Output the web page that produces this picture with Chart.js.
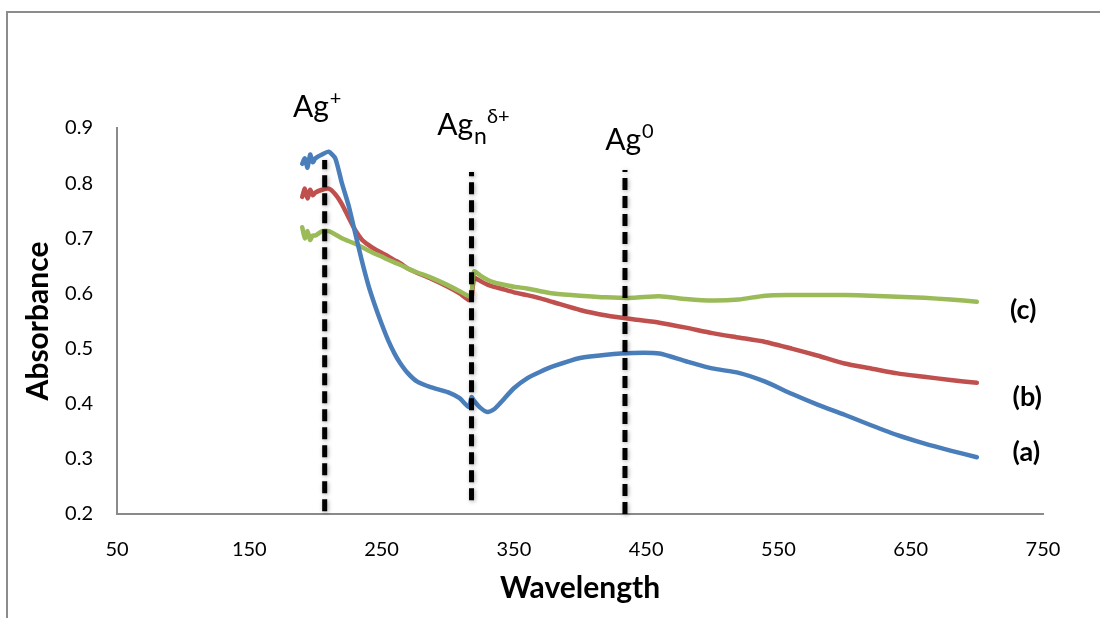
<!DOCTYPE html>
<html>
<head>
<meta charset="utf-8">
<script src="https://cdn.jsdelivr.net/npm/chart.js@4"></script>
<style>
  body { margin: 0; background: #fff; }
  #wrap { width: 1100px; height: 618px; position: relative; }
</style>
</head>
<body>
<div id="wrap"><canvas id="myChart" width="1100" height="618"></canvas></div>
<script>
// wavelength (nm) shared by the three spectra
const wavelengths = [190,192,194,196,198,200,205,210,215,220,225,230,235,240,245,250,255,260,264,270,277,287,300,309,316,318,320,325,330,335,340,350,360,370,380,400,420,440,460,480,500,520,540,560,580,600,620,640,660,680,700];
// (a) blue
const absA = [0.835,0.845,0.828,0.852,0.838,0.845,0.852,0.857,0.845,0.80,0.76,0.71,0.66,0.615,0.578,0.545,0.515,0.49,0.474,0.455,0.44,0.43,0.421,0.41,0.394,0.412,0.405,0.392,0.385,0.39,0.402,0.428,0.446,0.458,0.468,0.483,0.489,0.492,0.491,0.477,0.464,0.456,0.44,0.418,0.398,0.38,0.361,0.343,0.328,0.315,0.303];
// (b) red
const absB = [0.775,0.79,0.772,0.788,0.778,0.783,0.788,0.79,0.78,0.762,0.738,0.715,0.698,0.688,0.68,0.674,0.667,0.66,0.655,0.645,0.637,0.627,0.612,0.6,0.588,0.592,0.628,0.622,0.616,0.612,0.609,0.602,0.597,0.591,0.584,0.57,0.56,0.553,0.547,0.538,0.528,0.52,0.512,0.5,0.487,0.473,0.464,0.455,0.449,0.443,0.438];
// (c) green
const absC = [0.72,0.70,0.713,0.697,0.705,0.705,0.713,0.713,0.707,0.70,0.695,0.69,0.684,0.678,0.672,0.667,0.661,0.656,0.652,0.645,0.638,0.629,0.615,0.604,0.595,0.600,0.64,0.632,0.625,0.62,0.617,0.612,0.609,0.604,0.6,0.596,0.593,0.592,0.595,0.59,0.587,0.589,0.596,0.597,0.597,0.597,0.596,0.594,0.592,0.589,0.585];

// dashed marker lines: wavelength, bottom and top absorbance
const markerX = [207, 318, 434];
const markerBottom = [0.205, 0.225, 0.2];
const markerTop = [0.842, 0.82, 0.824];

// labels: text parts, anchor wavelength, anchor absorbance
const peakLabels = [
  { parts: [['Ag', 0], ['+', -1]], x: 183, y: 0.92 },
  { parts: [['Ag', 0], ['n', 1], ['δ+', -1]], x: 292, y: 0.887 },
  { parts: [['Ag', 0], ['0', -1]], x: 419, y: 0.86 }
];
const seriesLabels = ['(a)', '(b)', '(c)'];
const seriesLabelX = [727, 727, 725];
const seriesLabelY = [0.311, 0.412, 0.57];

const xTicks = { min: 50, max: 750, step: 100 };
const yTicks = { min: 0.2, max: 0.9, step: 0.1 };

function pts(ys) {
  return wavelengths.map((w, i) => ({ x: w, y: ys[i] }));
}

const markerSets = markerX.map((w, i) => ({
  data: [{ x: w, y: markerBottom[i] }, { x: w, y: markerTop[i] }],
  borderColor: '#000',
  borderWidth: 5,
  borderDash: [12, 6],
  pointRadius: 0,
  clip: false
}));

function spectrum(ys, color) {
  return {
    data: pts(ys),
    borderColor: color,
    borderWidth: 4.5,
    pointRadius: 0,
    tension: 0.2,
    borderCapStyle: 'round',
    borderJoinStyle: 'round'
  };
}

const annot = {
  id: 'annot',
  beforeDraw(chart) {
    const ctx = chart.ctx;
    ctx.save();
    ctx.strokeStyle = '#8c8c8c';
    ctx.lineWidth = 2;
    ctx.beginPath();
    ctx.moveTo(7, 640);
    ctx.lineTo(7, 12);
    ctx.lineTo(1110, 12);
    ctx.stroke();
    ctx.restore();
  },
  beforeDatasetDraw(chart, args) {
    if (args.index < markerSets.length) {
      chart.ctx.save();
      chart.ctx.shadowColor = 'rgba(0,0,0,0.35)';
      chart.ctx.shadowBlur = 4;
      chart.ctx.shadowOffsetX = 1;
      chart.ctx.shadowOffsetY = 1;
    }
  },
  afterDatasetDraw(chart, args) {
    if (args.index < markerSets.length) chart.ctx.restore();
  },
  afterDatasetsDraw(chart) {
    const ctx = chart.ctx;
    const xs = chart.scales.x, ys = chart.scales.y;
    ctx.save();
    ctx.fillStyle = '#000';
    ctx.textBaseline = 'alphabetic';
    ctx.textAlign = 'left';
    peakLabels.forEach(l => {
      let px = xs.getPixelForValue(l.x);
      const py = ys.getPixelForValue(l.y);
      l.parts.forEach(p => {
        let size = 30, dy = 0;
        if (p[1] === -1) { size = 20; dy = -12; }
        if (p[1] === 1) { size = 23; dy = 9; }
        ctx.font = size + 'px Lato';
        ctx.fillText(p[0], px, py + dy);
        px += ctx.measureText(p[0]).width + (p[1] === 0 ? 1 : 0);
      });
    });
    ctx.font = 'bold 27px Lato';
    ctx.textBaseline = 'middle';
    seriesLabels.forEach((t, i) => {
      ctx.fillText(t, xs.getPixelForValue(seriesLabelX[i]), ys.getPixelForValue(seriesLabelY[i]));
    });
    ctx.restore();
  }
};

const ctx = document.getElementById('myChart').getContext('2d');
const myChart = new Chart(ctx, {
  type: 'line',
  data: {
    datasets: [
      ...markerSets,
      spectrum(absA, '#4a7ebb'),
      spectrum(absC, '#9bbb59'),
      spectrum(absB, '#c0504d')
    ]
  },
  options: {
    responsive: false,
    animation: false,
    layout: { padding: { left: 0, right: 57, top: 128, bottom: 0 } },
    plugins: { legend: { display: false }, tooltip: { enabled: false } },
    scales: {
      x: {
        type: 'linear',
        min: xTicks.min, max: xTicks.max,
        afterFit(s) { s.height = 104; },
        grid: { display: false, drawTicks: false, tickLength: 0 },
        border: { display: true, color: '#8a8a8a', width: 2 },
        ticks: { stepSize: xTicks.step, padding: 24, color: '#000', font: { family: 'Lato', size: 20 }, maxRotation: 0 },
        title: { display: true, text: 'Wavelength', color: '#000', font: { family: 'Lato', size: 30, weight: 'bold' }, padding: { top: 0, bottom: 12 } }
      },
      y: {
        min: yTicks.min, max: yTicks.max,
        afterFit(s) { s.width = 117; },
        grid: { display: false, drawTicks: false, tickLength: 0 },
        border: { display: true, color: '#8a8a8a', width: 2 },
        ticks: { stepSize: yTicks.step, padding: 24, color: '#000', font: { family: 'Lato', size: 20 }, callback: v => v.toFixed(1) },
        title: { display: true, text: 'Absorbance', color: '#000', font: { family: 'Lato', size: 30, weight: 'bold' }, padding: { top: 20, bottom: 0 } }
      }
    }
  },
  plugins: [annot]
});
</script>
</body>
</html>
